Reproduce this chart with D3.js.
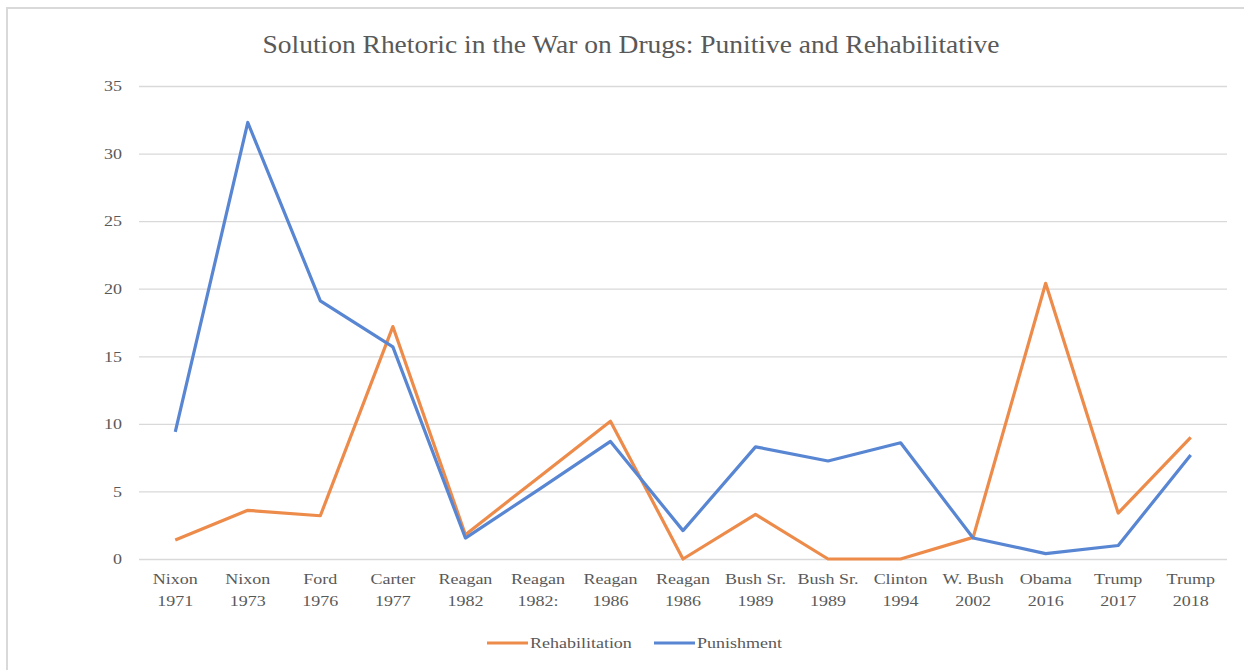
<!DOCTYPE html>
<html>
<head>
<meta charset="utf-8">
<script src="https://cdn.jsdelivr.net/npm/d3@7"></script>
<style>
  html, body { margin: 0; padding: 0; background: #fff; }
  svg { display: block; }
</style>
</head>
<body>
<svg id="chart" width="1244" height="670"></svg>
<script>
// Speech excerpts, in order of delivery
const categories = [
  ["Nixon", "1971"], ["Nixon", "1973"], ["Ford", "1976"], ["Carter", "1977"],
  ["Reagan", "1982"], ["Reagan", "1982:"], ["Reagan", "1986"], ["Reagan", "1986"],
  ["Bush Sr.", "1989"], ["Bush Sr.", "1989"], ["Clinton", "1994"], ["W. Bush", "2002"],
  ["Obama", "2016"], ["Trump", "2017"], ["Trump", "2018"]
];

// Share of solution rhetoric per speech
const rehabilitation = [1.4, 3.6, 3.2, 17.2, 1.8, 6.0, 10.2, 0, 3.3, 0, 0, 1.6, 20.4, 3.4, 9.0];
const punishment     = [9.4, 32.3, 19.1, 15.7, 1.55, 5.1, 8.7, 2.1, 8.3, 7.25, 8.6, 1.55, 0.4, 1.0, 7.7];

const yTicks = [0, 5, 10, 15, 20, 25, 30, 35];
const seriesNames = ["Rehabilitation", "Punishment"];

const svg = d3.select("#chart");
const font = "'Liberation Serif', 'Times New Roman', serif";
const textColor = "#595959";
const sx = 1.2;       // wide-set lettering for labels
const titleSx = 1.1;  // and for the title

// Outer chart frame
svg.append("path")
  .attr("d", "M7,670 V8 H1244")
  .attr("fill", "none")
  .attr("stroke", "#d9d9d9")
  .attr("stroke-width", 2);

const margin = { left: 139, right: 17, top: 86, bottom: 111 };
const W = 1244, H = 670;

const x = d3.scaleBand()
  .domain(d3.range(categories.length))
  .range([margin.left, W - margin.right])
  .paddingInner(0).paddingOuter(0);

const y = d3.scaleLinear()
  .domain([0, 35])
  .range([H - margin.bottom, margin.top]);

// Title
svg.append("text")
  .attr("transform", `translate(631,53) scale(${titleSx},1)`)
  .attr("text-anchor", "middle")
  .attr("font-family", font)
  .attr("font-size", 25)
  .attr("fill", textColor)
  .text("Solution Rhetoric in the War on Drugs: Punitive and Rehabilitative");

// Horizontal gridlines + value labels
const yAxis = d3.axisLeft(y)
  .tickValues(yTicks)
  .tickSize(-(W - margin.left - margin.right))
  .tickPadding(17);

const gy = svg.append("g")
  .attr("transform", `translate(${margin.left},0)`)
  .call(yAxis);
gy.select(".domain").remove();
gy.selectAll(".tick line").attr("stroke", "#d9d9d9").attr("stroke-width", 1.3);
gy.selectAll(".tick text")
  .attr("x", -17 / sx)
  .attr("transform", `scale(${sx},1)`)
  .attr("font-family", font)
  .attr("font-size", 15)
  .attr("fill", textColor);

// Category labels (two lines each)
const gx = svg.append("g")
  .attr("transform", `translate(0,${H - margin.bottom})`)
  .call(d3.axisBottom(x).tickSize(0).tickFormat(() => ""));
gx.select(".domain").remove();
gx.selectAll(".tick text").remove();
gx.selectAll(".tick").each(function(d) {
  const t = d3.select(this).append("text")
    .attr("transform", `scale(${sx},1)`)
    .attr("text-anchor", "middle")
    .attr("font-family", font)
    .attr("font-size", 15)
    .attr("fill", textColor);
  t.append("tspan").attr("x", 0).attr("y", 25).text(categories[d][0]);
  t.append("tspan").attr("x", 0).attr("y", 47).text(categories[d][1]);
});

const colors = { "Rehabilitation": "#ED8B4B", "Punishment": "#5886D2" };
const cx = i => x(i) + x.bandwidth() / 2;

const line = d3.line()
  .x((d, i) => cx(i))
  .y(d => y(d));

// Rehabilitation drawn first, punishment on top
[["Rehabilitation", rehabilitation], ["Punishment", punishment]].forEach(([name, vals]) => {
  svg.append("path")
    .datum(vals)
    .attr("d", line)
    .attr("fill", "none")
    .attr("stroke", colors[name])
    .attr("stroke-width", 3.2)
    .attr("stroke-linejoin", "round");
});

// Legend
const legend = svg.append("g").attr("transform", "translate(0,643)");
const legendItems = [
  { name: "Rehabilitation", x: 487 },
  { name: "Punishment", x: 654 }
];
legendItems.forEach(item => {
  legend.append("line")
    .attr("x1", item.x).attr("x2", item.x + 41)
    .attr("y1", 0).attr("y2", 0)
    .attr("stroke", colors[item.name])
    .attr("stroke-width", 3);
  legend.append("text")
    .attr("transform", `translate(${item.x + 43},5) scale(${sx},1)`)
    .attr("font-family", font)
    .attr("font-size", 15)
    .attr("fill", textColor)
    .text(item.name);
});
</script>
</body>
</html>
